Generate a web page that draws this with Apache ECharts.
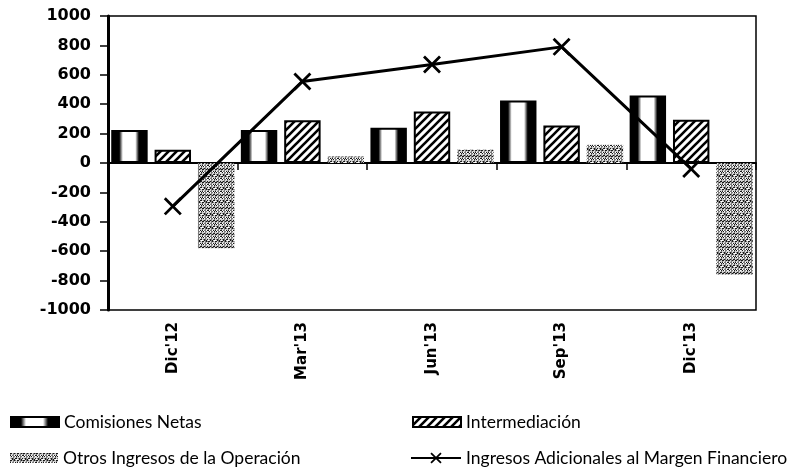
<!DOCTYPE html>
<html>
<head>
<meta charset="utf-8">
<script src="https://cdn.jsdelivr.net/npm/echarts@6/dist/echarts.min.js"></script>
<style>
html,body{margin:0;padding:0;background:#fff;}
#chart{width:787px;height:473px;}
</style>
</head>
<body>
<div id="chart"></div>
<script>
// ---- data ----
const categories = ["Dic'12", "Mar'13", "Jun'13", "Sep'13", "Dic'13"];
const comisionesNetas = [225, 225, 240, 425, 460];
const intermediacion = [90, 290, 350, 255, 295];
const otrosIngresos = [-580, 45, 90, 125, -760];
const ingresosAdicionales = [-295, 555, 670, 790, -40];
const yTicks = { min: -1000, max: 1000, interval: 200 };
const seriesNames = ['Comisiones Netas', 'Intermediación', 'Otros Ingresos de la Operación', 'Ingresos Adicionales al Margen Financiero'];

// ---- patterns ----
function hatchPattern() {
  const c = document.createElement('canvas');
  c.width = 8; c.height = 8;
  const g = c.getContext('2d');
  g.fillStyle = '#fff'; g.fillRect(0, 0, 8, 8);
  g.strokeStyle = '#000'; g.lineWidth = 2.6;
  g.beginPath();
  g.moveTo(0, 8); g.lineTo(8, 0);
  g.moveTo(-4, 4); g.lineTo(4, -4);
  g.moveTo(4, 12); g.lineTo(12, 4);
  g.stroke();
  return c;
}
function stipplePattern() {
  const n = 13;
  const c = document.createElement('canvas');
  c.width = n; c.height = n;
  const g = c.getContext('2d');
  g.fillStyle = '#d4d4d4'; g.fillRect(0, 0, n, n);
  for (let x = 0; x < n; x++) {
    for (let y = 0; y < n; y++) {
      const h = (x * 37 + y * 23 + x * y * 11 + x * x * 5) % 7;
      if (h === 0 || h === 4) { g.fillStyle = '#1a1a1a'; g.fillRect(x, y, 1, 1); }
      else if (h === 2) { g.fillStyle = '#7a7a7a'; g.fillRect(x, y, 1, 1); }
      else if (h === 5) { g.fillStyle = '#ffffff'; g.fillRect(x, y, 1, 1); }
    }
  }
  return c;
}

const cylinder = {
  type: 'linear', x: 0, y: 0, x2: 1, y2: 0,
  colorStops: [
    { offset: 0, color: '#000' }, { offset: 0.22, color: '#000' },
    { offset: 0.32, color: '#fff' }, { offset: 0.66, color: '#fff' },
    { offset: 0.76, color: '#000' }, { offset: 1, color: '#000' }
  ]
};

const xMark = 'path://M0,1.1L1.1,0L10,8.9L8.9,10Z M8.9,0L10,1.1L1.1,10L0,8.9Z';

const chart = echarts.init(document.getElementById('chart'), null, { renderer: 'canvas' });

const legendBase = {
  orient: 'horizontal', padding: 0, itemGap: 0, selectedMode: false,
  textStyle: { fontFamily: 'Lato', fontSize: 17.5, color: '#000' },
  itemHeight: 10
};

const option = {
  backgroundColor: '#fff',
  animation: false,
  grid: {
    left: 108, right: 31, top: 16, bottom: 163,
    show: true, borderColor: '#000', borderWidth: 1.5, backgroundColor: 'transparent'
  },
  xAxis: [
    {
      type: 'category', data: categories, position: 'bottom',
      axisLine: { onZero: true, lineStyle: { color: '#000', width: 2 } },
      axisTick: { show: true, length: 7, lineStyle: { color: '#000', width: 1.5 } },
      axisLabel: { show: false },
      splitLine: { show: false }
    },
    {
      type: 'category', data: categories, position: 'bottom',
      axisLine: { show: false, onZero: false },
      axisTick: { show: false },
      axisLabel: {
        show: true, rotate: 90, margin: 12,
        fontFamily: 'DejaVu Sans', fontSize: 15, fontWeight: 'bold', color: '#000'
      },
      splitLine: { show: false }
    }
  ],
  yAxis: {
    type: 'value', min: yTicks.min, max: yTicks.max, interval: yTicks.interval,
    axisLine: { show: true, lineStyle: { color: '#000', width: 3 } },
    axisTick: { show: true, length: 8, lineStyle: { color: '#000', width: 1.5 } },
    axisLabel: {
      margin: 17, fontFamily: 'DejaVu Sans', fontSize: 16, fontWeight: 'bold', color: '#000',
      formatter: function (v) { return String(v); }
    },
    splitLine: { show: false }
  },
  legend: [
    Object.assign({}, legendBase, { data: [{ name: seriesNames[0], icon: 'rect' }], left: 10, top: 413, itemWidth: 48 }),
    Object.assign({}, legendBase, { data: [{ name: seriesNames[1], icon: 'rect' }], left: 412, top: 413, itemWidth: 48 }),
    Object.assign({}, legendBase, { data: [{ name: seriesNames[2], icon: 'rect' }], left: 10, top: 449, itemWidth: 48 }),
    Object.assign({}, legendBase, { data: [{ name: seriesNames[3] }], left: 410, top: 449, itemWidth: 50, itemHeight: 14 })
  ],
  series: [
    {
      name: seriesNames[0], type: 'bar', data: comisionesNetas, xAxisIndex: 0,
      barGap: '19%', barCategoryGap: '5%',
      itemStyle: { color: cylinder, borderColor: '#000', borderWidth: 2 }
    },
    {
      name: seriesNames[1], type: 'bar', data: intermediacion, xAxisIndex: 0,
      barGap: '19%', barCategoryGap: '5%',
      itemStyle: { color: { image: hatchPattern(), repeat: 'repeat' }, borderColor: '#000', borderWidth: 2 }
    },
    {
      name: seriesNames[2], type: 'bar', data: otrosIngresos, xAxisIndex: 0,
      barGap: '19%', barCategoryGap: '5%',
      itemStyle: { color: { image: stipplePattern(), repeat: 'repeat' }, borderWidth: 0 }
    },
    {
      name: seriesNames[3], type: 'line', data: ingresosAdicionales, xAxisIndex: 0,
      z: 5, symbol: xMark, symbolSize: 18, showAllSymbol: true,
      lineStyle: { color: '#000', width: 3 },
      itemStyle: { color: '#000', borderWidth: 0 }
    }
  ]
};
chart.setOption(option);
</script>
</body>
</html>
